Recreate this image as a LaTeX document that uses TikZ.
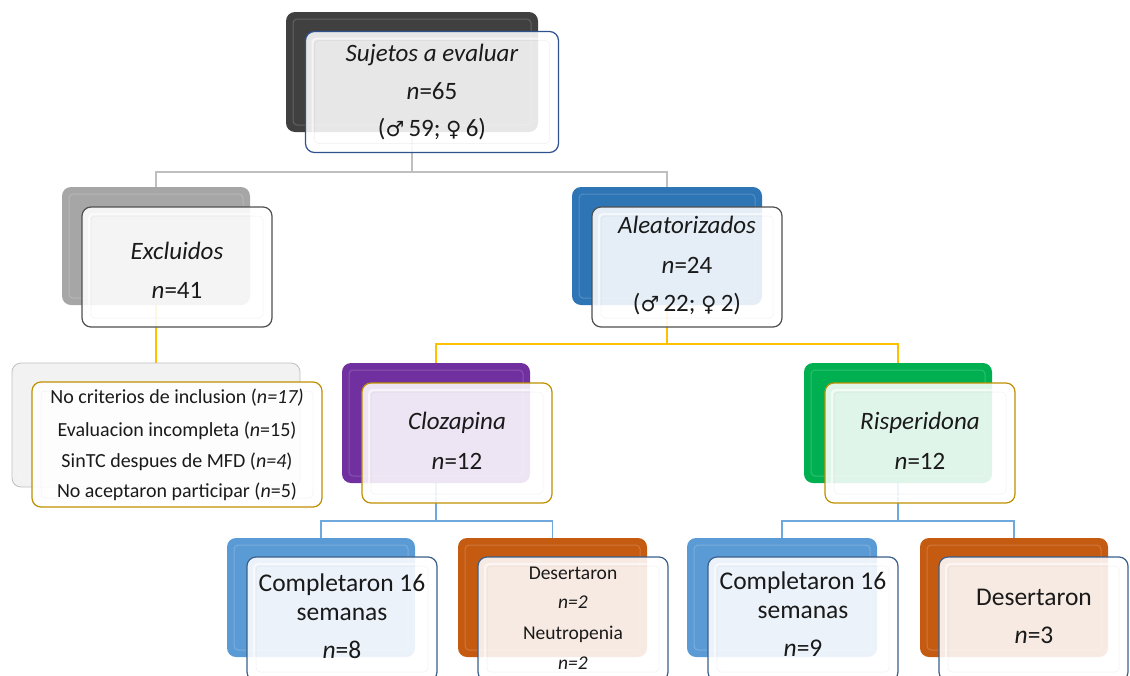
\documentclass[tikz,border=0pt]{standalone}
\usepackage{fontspec}
\setmainfont{Carlito}
\newfontfamily\symfont{DejaVu Sans}
\definecolor{textc}{HTML}{1A1A1A}
\definecolor{cdark}{HTML}{404040}
\definecolor{cgrey}{HTML}{A6A6A6}
\definecolor{cblue}{HTML}{2E75B6}
\definecolor{cpale}{HTML}{F2F2F2}
\definecolor{cpurple}{HTML}{7030A0}
\definecolor{cgreen}{HTML}{00B050}
\definecolor{clblue}{HTML}{5B9BD5}
\definecolor{corange}{HTML}{C55A11}
\definecolor{bnavy}{HTML}{2F528F}
\definecolor{bgrey}{HTML}{505050}
\definecolor{bgold}{HTML}{BF9000}
\definecolor{bslate}{HTML}{3A5F8A}
\definecolor{lgrey}{HTML}{BFBFBF}
\definecolor{lyellow}{HTML}{FFC000}
\definecolor{lblue}{HTML}{6FA8DC}
\pgfdeclarelayer{bg}
\pgfsetlayers{bg,main}
\tikzset{
  bk/.style={rounded corners=9pt, inner sep=0pt, draw=none, fill=#1,
    path picture={\draw[white, line width=1pt, opacity=0.18, rounded corners=4pt]
      ([xshift=7pt,yshift=-7pt]path picture bounding box.north west) rectangle
      ([xshift=-7pt,yshift=7pt]path picture bounding box.south east);}},
  fr/.style={rounded corners=9pt, inner sep=0pt, draw=#1, line width=1.2pt,
    fill=white, fill opacity=0.88,
    path picture={\draw[white, line width=2pt, opacity=0.6, rounded corners=4pt]
      ([xshift=7pt,yshift=-7pt]path picture bounding box.north west) rectangle
      ([xshift=-7pt,yshift=7pt]path picture bounding box.south east);
      \draw[black, line width=0.5pt, opacity=0.06, rounded corners=4pt]
      ([xshift=9pt,yshift=-9pt]path picture bounding box.north west) rectangle
      ([xshift=-9pt,yshift=9pt]path picture bounding box.south east);}},
  sz/.style 2 args={minimum width=#1pt, minimum height=#2pt},
  conn/.style={line width=1.8pt, draw=#1},
  tx/.style={inner sep=0pt, text=textc, text height=1.25em, text depth=0pt},
  tbig/.style={tx, font=\fontsize{25}{30}\selectfont},
  tlarge/.style={tx, font=\fontsize{25.5}{30}\selectfont},
  tsmall/.style={tx, font=\fontsize{20}{24}\selectfont},
  tsmaller/.style={tx, font=\fontsize{19.5}{24}\selectfont},
}
\newcommand{\msym}{{\symfont\bfseries\fontsize{21}{24}\selectfont ♂}}
\newcommand{\fsym}{{\symfont\bfseries\fontsize{21}{24}\selectfont ♀}}
\begin{document}
\begin{tikzpicture}[x=1pt,y=-1pt]
\useasboundingbox (0,0) rectangle (1130,675);
\clip (0,0) rectangle (1130,675);
% back boxes
\node[bk=cdark, sz={252}{120}] (topB) at (412,72) {};
\node[bk=cgrey, sz={188}{118}] (exB) at (156,246) {};
\node[bk=cblue, sz={190}{118}] (alB) at (667,246) {};
\node[bk=cpale, sz={288}{124}, draw=lgrey, line width=0.8pt] (liB) at (156,425) {};
\node[bk=cpurple, sz={188}{120}] (clB) at (436,423) {};
\node[bk=cgreen, sz={188}{120}] (riB) at (898,423) {};
\node[bk=clblue, sz={188}{119}] (c1B) at (321,597.5) {};
\node[bk=corange, sz={189}{119}] (c2B) at (552.5,597.5) {};
\node[bk=clblue, sz={190}{119}] (r1B) at (782,597.5) {};
\node[bk=corange, sz={188}{119}] (r2B) at (1014,597.5) {};
% front boxes
\node[fr=bnavy, sz={253}{121}] (topF) at (432,92) {};
\node[fr=bgrey, sz={190}{120}] (exF) at (177,267) {};
\node[fr=bgrey, sz={190}{120}] (alF) at (687,267) {};
\node[fr=bgold, sz={290}{125}] (liF) at (177,444.5) {};
\node[fr=bgold, sz={190}{120}] (clF) at (457,443) {};
\node[fr=bgold, sz={190}{120}] (riF) at (920,443) {};
\node[fr=bslate, sz={190}{124}] (c1F) at (342,619) {};
\node[fr=bslate, sz={190}{124}] (c2F) at (573,619) {};
\node[fr=bslate, sz={190}{124}] (r1F) at (803,619) {};
\node[fr=bslate, sz={189}{124}] (r2F) at (1033.5,619) {};
% connectors (behind)
\begin{pgfonlayer}{bg}
\draw[conn=lgrey] (topB.south) -- ++(0,40) coordinate (hTop) -| (exB.north);
\draw[conn=lgrey] (hTop) -| (alB.north);
\draw[conn=lyellow] (exB.south) -- (liB.north);
\draw[conn=lyellow] (alB.south) -- ++(0,39) coordinate (hAl) -| (clB.north);
\draw[conn=lyellow] (hAl) -| (riB.north);
\draw[conn=lblue] (clB.south) -- ++(0,38) coordinate (hCl) -| (c1B.north);
\draw[conn=lblue] (hCl) -| (c2B.north);
\draw[conn=lblue] (riB.south) -- ++(0,38) coordinate (hRi) -| (r1B.north);
\draw[conn=lblue] (hRi) -| (r2B.north);
\end{pgfonlayer}
% texts
\node[tbig] (t1) at (432,55) {\textit{Sujetos a evaluar}};
\node[tbig] (t2) at (432,93) {\textit{n}=65};
\node[tbig] (t3) at (432,130) {(\msym\,59; \fsym\,6)};
\node[tbig] (e1) at (177,253) {\textit{Excluidos}};
\node[tbig] (e2) at (177,292) {\textit{n}=41};
\node[tbig] (a1) at (687,227) {\textit{Aleatorizados}};
\node[tbig] (a2) at (687,267) {\textit{n}=24};
\node[tbig] (a3) at (687,305) {(\msym\,22; \fsym\,2)};
\node[tsmall] (l1) at (177,397) {No criterios de inclusion (\textit{n=17)}};
\node[tsmall] (l2) at (177,430) {Evaluacion incompleta (\textit{n}=15)};
\node[tsmall] (l3) at (177,461) {SinTC despues de MFD (\textit{n=4})};
\node[tsmall] (l4) at (177,491) {No aceptaron participar (\textit{n}=5)};
\node[tbig] (k1) at (457,423) {\textit{Clozapina}};
\node[tbig] (k2) at (457,463) {\textit{n}=12};
\node[tbig] (r1) at (920,423) {\textit{Risperidona}};
\node[tbig] (r2) at (920,463) {\textit{n}=12};
\node[tlarge] (p1) at (342,585) {Completaron 16};
\node[tlarge] (p2) at (342,614) {semanas};
\node[tlarge] (p3) at (342,652) {\textit{n}=8};
\node[tsmaller] (q1) at (573,573) {Desertaron};
\node[tsmaller] (q2) at (573,602) {\textit{n=2}};
\node[tsmaller] (q3) at (573,633) {Neutropenia};
\node[tsmaller] (q4) at (573,663) {\textit{n=2}};
\node[tlarge] (s1) at (803,583) {Completaron 16};
\node[tlarge] (s2) at (803,612) {semanas};
\node[tlarge] (s3) at (803,650) {\textit{n}=9};
\node[tlarge] (u1) at (1034,599) {Desertaron};
\node[tlarge] (u2) at (1034,637) {\textit{n}=3};
\end{tikzpicture}
\end{document}
